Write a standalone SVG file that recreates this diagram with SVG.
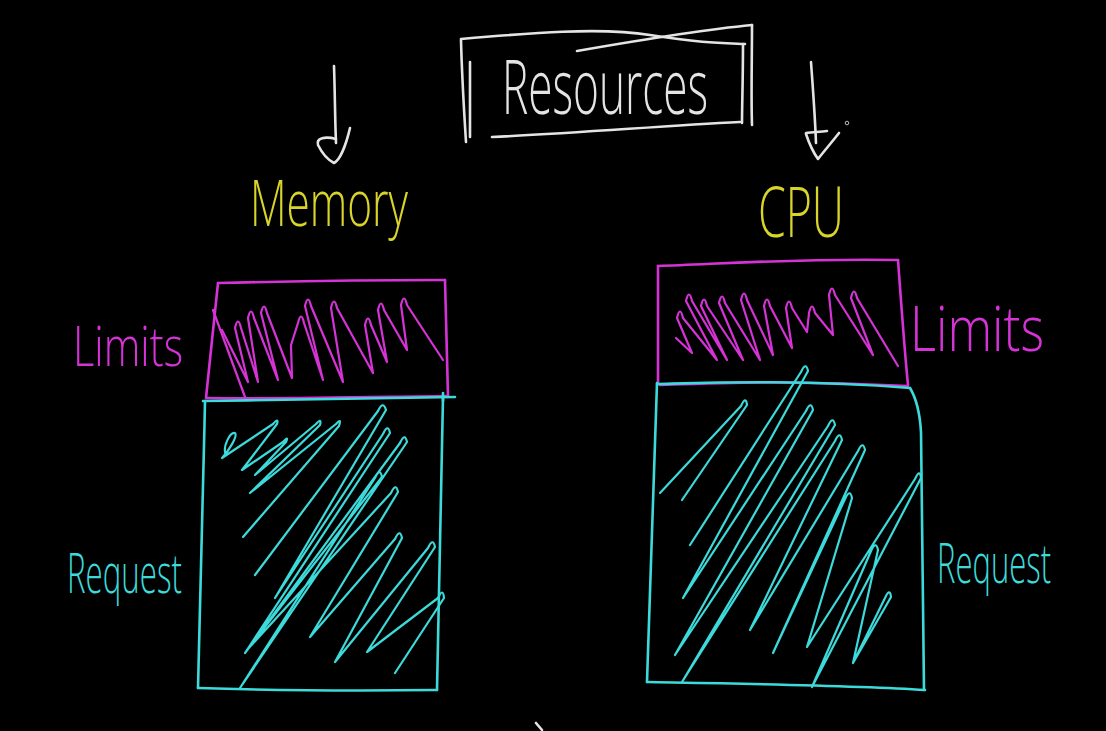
<svg xmlns="http://www.w3.org/2000/svg" width="1106" height="731" viewBox="0 0 1106 731">
<style>
.s{fill:none;stroke-width:2.6;stroke-linecap:round;stroke-linejoin:round}
.sc{fill:none;stroke-width:2.2;stroke-linecap:round;stroke-linejoin:round}
.w{stroke:#e4e4e4}
.m{stroke:#d633d6}
.c{stroke:#3cdada}
.t{font-family:"Open Sans","Liberation Sans",sans-serif;font-weight:300}
.tw{fill:#e4e4e4}
.ty{fill:#d8d42a}
.tm{fill:#d633d6}
.tc{fill:#3cdada}
</style>
<rect width="1106" height="731" fill="#000"/>

<g id="resources">
<path class="s w" d="M461,39 C530,33 600,27 650,35 S720,43 745,44"/>
<path class="s w" d="M577,51 C640,40 700,30 752,25"/>
<path class="s w" d="M461,40 C462,80 464,110 466,142"/>
<path class="s w" d="M470,62 L470,137"/>
<path class="s w" d="M752,25 C752,60 751,95 752,125"/>
<path class="s w" d="M743,44 C743,80 742,105 742,123"/>
<path class="s w" d="M492,137 C580,133 660,126 740,122"/>
<text class="t tw" x="502" y="114" font-size="76" textLength="206" lengthAdjust="spacingAndGlyphs">Resources</text>
</g>

<g id="connectors">
<path class="s w" d="M334,66 C335,95 335,120 336,143"/>
<path class="s w" d="M336,139 C325,136 316,138 318,145 C322,153 328,160 334,163 C340,160 346,145 350,128"/>
<path class="s w" d="M811,62 C813,90 815,115 816,143"/>
<path class="s w" d="M806,133 C813,132 820,132 827,131"/>
<path class="s w" d="M806,134 C809,143 813,152 818,159 C825,150 832,142 839,133"/>
<circle cx="847" cy="123" r="1.8" fill="none" stroke="#bbb" stroke-width="1"/>
<path class="s w" d="M536,723 L542,730"/>
</g>

<g id="memory-label">
<text class="t ty" x="250" y="226" font-size="64" textLength="158" lengthAdjust="spacingAndGlyphs">Memory</text>
</g>

<g id="cpu-label">
<text class="t ty" x="758" y="237" font-size="70" textLength="86" lengthAdjust="spacingAndGlyphs">CPU</text>
</g>

<g id="memory-limits">
<path class="s m" d="M218,283 C300,281 380,280 445,280"/>
<path class="s m" d="M218,283 C214,320 210,360 206,398"/>
<path class="s m" d="M445,280 C446,320 447,360 448,396"/>
<path class="s m" d="M207,398 C290,399 370,397 448,396"/>
<path class="sc m" d="M213,310 L245,397"/>
<path class="sc m" d="M222,330 L248,382 L235,328 Q238,315 241,328 L258,382 L248,318 Q251,305 254,318 L278,380 L261,313 Q264,300 267,313 L292,378 L291,345 L298,323 Q301,310 304,323 L323,380 L305,306 Q308,293 311,306 L343,382 L331,308 Q334,295 337,308 L373,373 L365,325 Q368,312 371,325 L387,362 L378,310 Q381,297 384,310 L407,350 L401,305 Q404,292 407,305 L443,360"/>
<text class="t tm" x="73" y="366" font-size="56" textLength="110" lengthAdjust="spacingAndGlyphs">Limits</text>
</g>

<g id="memory-request">
<path class="s c" d="M203,401 C290,400 380,398 455,397"/>
<path class="s c" d="M443,393 L443,401"/>
<path class="s c" d="M205,401 C203,500 200,600 198,688"/>
<path class="s c" d="M443,397 C441,500 439,600 437,690"/>
<path class="s c" d="M198,688 C260,690 350,691 437,690"/>
<path class="sc c" d="M226,455 C222,447 230,432 235,433 C238,436 228,452 222,458 L273,424 Q279,417 277,424 L242,470 L283,442 Q289,435 286,442 L255,475 L316,424 Q322,417 320,425 L250,493 L336,424 Q342,417 339,426 L243,537"/>
<path class="sc c" d="M255,575 L378,411 Q383,400 386,410 L275,598 L383,434 Q388,423 390,433 L245,653 L400,443 Q405,432 407,442 L240,688 L375,478 Q380,467 382,477 L247,650 L391,493 Q396,482 398,492 L310,637 L395,539 Q400,528 402,538 L335,662 L428,548 Q433,537 435,547 L367,652 L438,598 Q443,587 444,598 L395,673"/>
<text class="t tc" x="67" y="593" font-size="56" textLength="115" lengthAdjust="spacingAndGlyphs">Request</text>
</g>

<g id="cpu-limits">
<path class="s m" d="M658,266 C720,264 800,258 898,260"/>
<path class="s m" d="M658,266 L658,383"/>
<path class="s m" d="M898,260 C901,300 904,345 908,385"/>
<path class="s m" d="M660,385 C720,383 800,380 908,386"/>
<path class="sc m" d="M676,338 L692,353 L677,318 Q680,305 683,318 L717,360 L686,301 Q689,288 692,301 L727,360 L701,306 Q704,293 707,306 L743,360 L719,303 Q722,290 725,303 L760,360 L741,300 Q744,287 747,300 L773,355 L764,306 Q767,293 770,306 L792,348 L786,308 Q789,295 792,308 L807,332 L809,313 Q812,300 815,313 L833,335 L829,295 Q832,282 835,295 L873,355 L851,298 Q854,285 857,298 L898,366"/>
<text class="t tm" x="910" y="351" font-size="62" textLength="134" lengthAdjust="spacingAndGlyphs">Limits</text>
</g>

<g id="cpu-request">
<path class="s c" d="M657,384 C700,383 800,379 910,388"/>
<path class="s c" d="M657,383 C653,480 650,580 647,682"/>
<path class="s c" d="M910,388 C916,398 920,415 921,432 L924,690"/>
<path class="s c" d="M647,682 C700,683 850,685 925,690"/>
<path class="sc c" d="M660,493 L741,406 Q746,395 747,405 L682,500"/>
<path class="sc c" d="M690,545 L801,372 Q806,361 808,371 L683,598 L806,411 Q811,400 813,410 L675,655 L828,426 Q833,415 835,425 L682,682 L835,441 Q840,430 842,440 L750,630 L858,451 Q863,440 865,450 L773,653 L845,499 Q850,488 852,498 L807,647 L915,479 Q920,468 921,478 L812,687 L871,551 Q876,540 878,550 L853,663 L885,598 Q890,587 891,597 L853,663"/>
<text class="t tc" transform="translate(937,583) scale(1,1.25)" x="0" y="0" font-size="44" textLength="114" lengthAdjust="spacingAndGlyphs">Request</text>
</g>
</svg>
